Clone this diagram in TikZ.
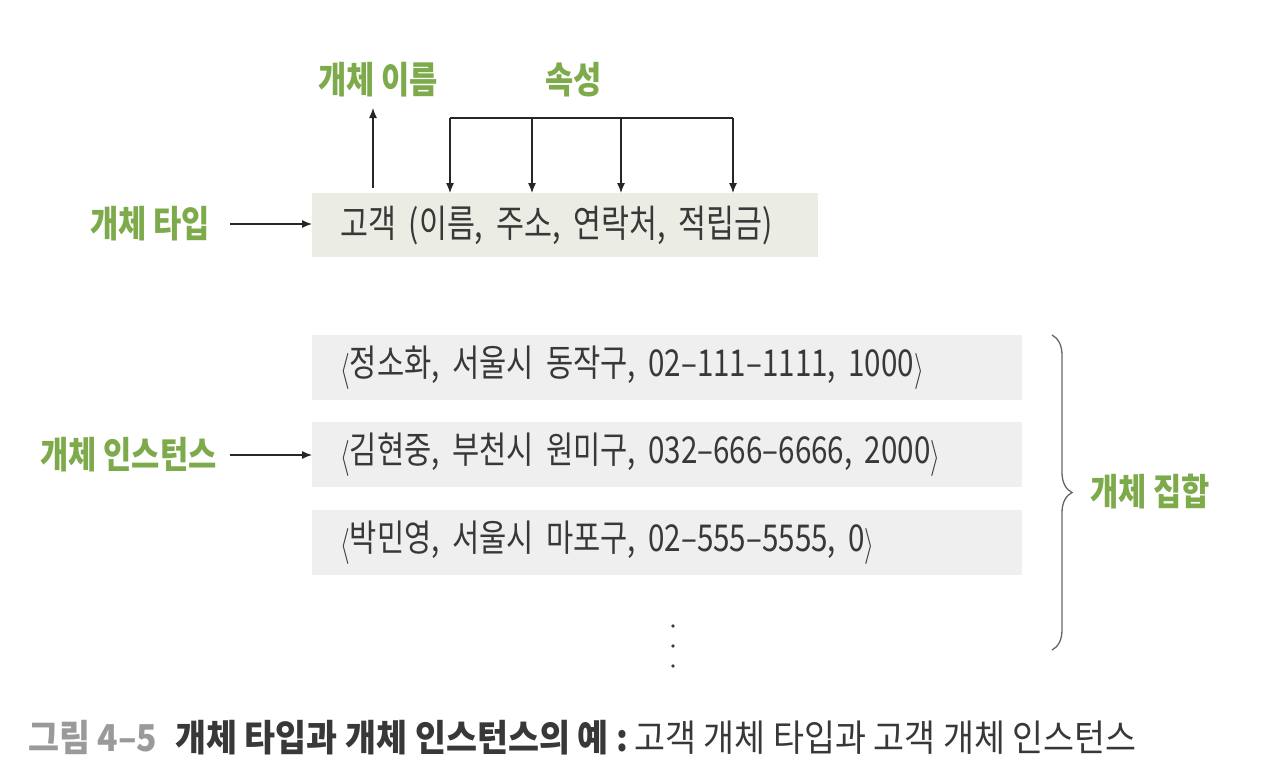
\documentclass[tikz,border=0pt]{standalone}
\usepackage{fontspec}
\usepackage{graphicx}
\setmainfont{Noto Sans CJK KR}
\newfontfamily\kr[FakeStretch=0.8]{Noto Sans CJK KR}
\newfontfamily\krl[FakeStretch=0.83]{Noto Sans CJK KR}
\newfontfamily\krc[FakeStretch=0.91]{Noto Sans CJK KR}
\newcommand{\lab}{\raisebox{-0.12em}{\scalebox{1}[1.45]{$\langle$}}}
\newcommand{\rab}{\raisebox{-0.12em}{\scalebox{1}[1.45]{$\rangle$}}}
\usetikzlibrary{arrows.meta,decorations.pathreplacing}
\definecolor{lblgreen}{HTML}{7DAA4A}
\definecolor{typefill}{HTML}{EBEDE5}
\definecolor{instfill}{HTML}{EFEFEF}
\definecolor{txt}{HTML}{383838}
\definecolor{capgray}{HTML}{9A9A9A}
\begin{document}
\begin{tikzpicture}[x=1pt,y=-1pt,
  lbl/.style={text=lblgreen,font=\krl\bfseries\fontsize{37}{42}\selectfont,inner sep=0pt},
  typebox/.style={fill=typefill,minimum width=506pt,minimum height=64pt,text width=450pt,align=left,inner xsep=28pt,inner ysep=0pt,anchor=north west,text=txt,font=\kr\fontsize{38}{42}\selectfont},
  instbox/.style={fill=instfill,minimum width=710pt,minimum height=65pt,text width=654pt,align=left,inner xsep=28pt,inner ysep=0pt,anchor=north west,text=txt,font=\kr\fontsize{37}{42}\selectfont},
  arr/.style={-{Latex[length=10pt,width=8pt]},line width=1.2pt,draw=black!85},
  ln/.style={line width=1.2pt,draw=black!85}]
\useasboundingbox[fill=white] (0,0) rectangle (1278,774);
% type box
\node[typebox] (type) at (312,193) {고객 (이름, 주소, 연락처, 적립금)};
% labels
\node[lbl,anchor=west] (ltype) at (90,224) {개체 타입};
\node[lbl,anchor=west] (lname) at (318,80) {개체 이름};
\node[lbl,anchor=west] (lattr) at (545,80) {속성};
\node[lbl,anchor=west] (linst) at (40,455) {개체 인스턴스};
\node[lbl,anchor=west] (lset) at (1090,492) {개체 집합};
% arrows into type box
\coordinate (tl) at (230,224);
\draw[arr] (tl) -- (type.west |- tl);
\coordinate (nb) at (373,188);
\coordinate (nt) at (373,108);
\draw[arr] (nb) -- (nt);
\coordinate (b1) at (450,118);
\coordinate (b2) at (532,118);
\coordinate (b3) at (621,118);
\coordinate (b4) at (733,118);
\draw[ln] (b1) -- (b4);
\foreach \c in {b1,b2,b3,b4}{
  \draw[arr] (\c) -- (\c |- type.north);
}
% instances
\node[instbox] (i1) at (312,335) {\lab 정소화, 서울시 동작구, 02–111–1111, 1000\rab};
\node[instbox] (i2) at (312,422) {\lab 김현중, 부천시 원미구, 032–666–6666, 2000\rab};
\node[instbox] (i3) at (312,510) {\lab 박민영, 서울시 마포구, 02–555–5555, 0\rab};
\coordinate (il) at (230,455);
\draw[arr] (il) -- (i2.west |- il);
% dots
\foreach \yy in {626,646,666}{\fill[black!75] (673,\yy) circle (1.8pt);}
% brace
\coordinate (bt) at (1052,335);
\coordinate (bb) at (1052,650);
\draw[decorate,decoration={brace,amplitude=20pt},line width=1.3pt,draw=black!60] (bt) -- (bb);
% caption
\node[anchor=west,inner sep=0pt,font=\krc\fontsize{37}{42}\selectfont] (cap) at (28,738)
 {{\bfseries\color{capgray}그림 4–5}\hspace{18pt}{\bfseries\color{txt}개체 타입과 개체 인스턴스의 예 :}\hspace{6pt}{\color{txt}고객 개체 타입과 고객 개체 인스턴스}};
\end{tikzpicture}
\end{document}
